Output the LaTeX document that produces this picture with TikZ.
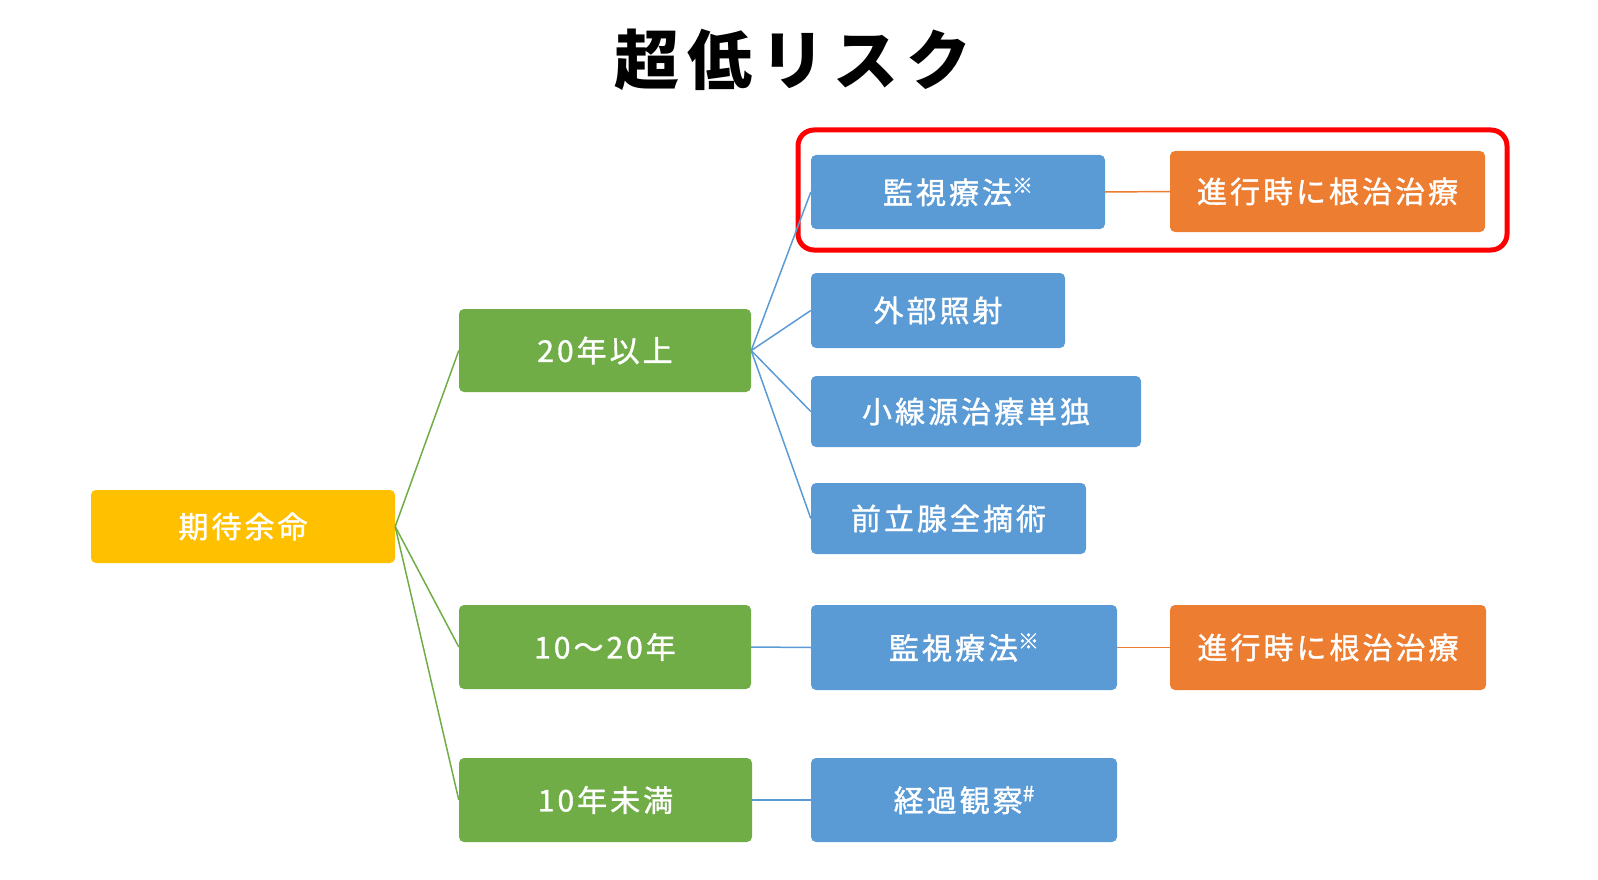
\documentclass[tikz,border=0pt]{standalone}
\usepackage{fontspec}
\setmainfont{Noto Sans CJK JP}[LetterSpace=10, FakeBold=1.2]
\newfontfamily\titlefont{Noto Sans CJK JP}[LetterSpace=12]
\definecolor{cyellow}{HTML}{FFC000}
\definecolor{cgreen}{HTML}{70AD47}
\definecolor{cblue}{HTML}{5B9BD5}
\definecolor{corange}{HTML}{ED7D31}
\definecolor{cred}{HTML}{FF0000}
\begin{document}
\begin{tikzpicture}[x=1pt,y=-1pt,
  box/.style={rounded corners=5pt, inner sep=0pt, text=white,
    font=\fontsize{30}{36}\selectfont, anchor=center},
  ybox/.style={box, fill=cyellow},
  gbox/.style={box, fill=cgreen},
  bbox/.style={box, fill=cblue},
  obox/.style={box, fill=corange},
  gline/.style={draw=cgreen, line width=1.5pt},
  bline/.style={draw=cblue, line width=1.5pt},
  oline/.style={draw=corange, line width=1.5pt}]
\useasboundingbox (0,0) rectangle (1598,880);
\node[font=\titlefont\bfseries\fontsize{65}{70}\selectfont] (title) at (793,60) {超低リスク};

\draw[cred, line width=5pt, rounded corners=16pt] (798,130) rectangle (1507,250);

\node[ybox, minimum width=304pt, minimum height=73pt] (life) at (243,526.5) {期待余命};
\node[gbox, minimum width=292pt, minimum height=83pt] (g20) at (605,350.5) {20年以上};
\node[gbox, minimum width=292pt, minimum height=84pt] (g1020) at (605,647) {10〜20年};
\node[gbox, minimum width=293pt, minimum height=84pt] (g10) at (605.5,800) {10年未満};

\node[bbox, minimum width=294pt, minimum height=74pt] (as1) at (958,192) {監視療法\raisebox{0.35em}{\fontsize{21}{24}\selectfont ※}};
\node[obox, minimum width=315pt, minimum height=81pt] (cur1) at (1327.5,191.5) {進行時に根治治療};
\node[bbox, minimum width=254pt, minimum height=75pt] (ebrt) at (938,310.5) {外部照射};
\node[bbox, minimum width=330pt, minimum height=71pt] (brachy) at (976,411.5) {小線源治療単独};
\node[bbox, minimum width=275pt, minimum height=71pt] (rp) at (948.5,518.5) {前立腺全摘術};
\node[bbox, minimum width=306pt, minimum height=85pt] (as2) at (964,647.5) {監視療法\raisebox{0.35em}{\fontsize{21}{24}\selectfont ※}};
\node[obox, minimum width=316pt, minimum height=85pt] (cur2) at (1328,647.5) {進行時に根治治療};
\node[bbox, minimum width=306pt, minimum height=84pt] (ww) at (964,800) {経過観察\raisebox{0.35em}{\fontsize{21}{24}\selectfont \#}};

\draw[gline] (life.east) -- (g20.west);
\draw[gline] (life.east) -- (g1020.west);
\draw[gline] (life.east) -- (g10.west);

\draw[bline] (g20.east) -- (as1.west);
\draw[bline] (g20.east) -- (ebrt.west);
\draw[bline] (g20.east) -- (brachy.west);
\draw[bline] (g20.east) -- (rp.west);
\draw[bline] (g1020.east) -- (as2.west);
\draw[bline] (g10.east) -- (ww.west);

\draw[oline] (as1.east) -- (cur1.west);
\draw[oline] (as2.east) -- (cur2.west);
\end{tikzpicture}
\end{document}
